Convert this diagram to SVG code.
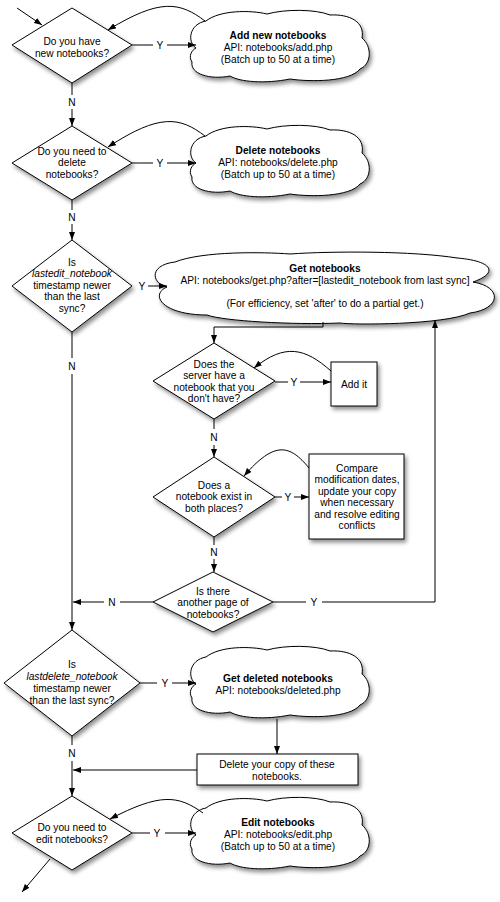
<svg xmlns="http://www.w3.org/2000/svg" width="500" height="902" viewBox="0 0 500 902">
<style>
.n{fill:#fff;stroke:#000;stroke-width:1;filter:url(#sh)}
.c{fill:none;stroke:#000;stroke-width:1}
.a{marker-end:url(#ah)}
text{font-family:"Liberation Sans",Arial,sans-serif;font-size:10.2px;fill:#000;text-anchor:middle}
.b{font-weight:bold}
.i{font-style:italic}
</style>
<defs>
<filter id="sh" x="-10%" y="-10%" width="130%" height="140%">
<feDropShadow dx="2" dy="3" stdDeviation="2" flood-color="#000" flood-opacity="0.45"/>
</filter>
<marker id="ah" markerWidth="8" markerHeight="6" refX="8" refY="3" orient="auto" markerUnits="userSpaceOnUse">
<path d="M0,0 L8,3 L0,6 z" fill="#000"/>
</marker>
<path id="cloud" d="M 6,36 C -3,30 -1,12 16,9 C 30,-2 60,-2 77,2 C 95,-3 125,-3 140,3 C 160,2 175,10 172,26 C 182,34 182,52 170,57 C 160,70 120,70 100,67 C 75,72 50,70 40,64 C 20,68 0,62 2,50 C -2,44 2,38 6,36 Z"/>
</defs>

<g id="d1">
<polygon class="n" points="72,8 132,45 72,83 12,45"/>
<text x="72" y="44.5">Do you have</text>
<text x="72" y="56.5">new notebooks?</text>
</g>
<g id="c1">
<use href="#cloud" class="n" x="190" y="12"/>
<text class="b" x="278" y="38.5">Add new notebooks</text>
<text x="278" y="50.5">API: notebooks/add.php</text>
<text x="278" y="62.5">(Batch up to 50 at a time)</text>
</g>
<g id="d2">
<polygon class="n" points="72,126 132,163 72,200 12,163"/>
<text x="72" y="154.5">Do you need to</text>
<text x="72" y="166">delete</text>
<text x="72" y="177.5">notebooks?</text>
</g>
<g id="c2">
<use href="#cloud" class="n" x="190" y="127"/>
<text class="b" x="278" y="153.5">Delete notebooks</text>
<text x="278" y="165.5">API: notebooks/delete.php</text>
<text x="278" y="177.5">(Batch up to 50 at a time)</text>
</g>
<g id="d3">
<polygon class="n" points="72,240 132,286 72,332 12,286"/>
<text x="72" y="265.5">Is</text>
<text class="i" x="72" y="277">lastedit_notebook</text>
<text x="72" y="288.5">timestamp newer</text>
<text x="72" y="300">than the last</text>
<text x="72" y="311.5">sync?</text>
</g>
<g id="c3">
<path class="n" transform="translate(153,253)" d="M 14,34 C -2,30 -4,12 22,9 C 50,-2 110,-1 137,1 C 180,-2 260,-2 304,5 C 340,8 346,20 320,29 C 350,34 348,56 317,60 C 290,72 200,72 187,70 C 140,72 70,68 54,62 C 10,62 -4,42 14,34 Z"/>
<text class="b" x="325" y="271.5">Get notebooks</text>
<text x="325" y="283.5">API: notebooks/get.php?after=[lastedit_notebook from last sync]</text>
<text x="325" y="306.5">(For efficiency, set 'after' to do a partial get.)</text>
</g>
<g id="d4">
<polygon class="n" points="214,343 275,381 214,419 153,381"/>
<text x="214" y="367.5">Does the</text>
<text x="214" y="379">server have a</text>
<text x="214" y="390.5">notebook that you</text>
<text x="214" y="402">don't have?</text>
</g>
<g id="b1">
<rect class="n" x="331" y="362" width="46" height="44"/>
<text x="354" y="387.5">Add it</text>
</g>
<g id="d5">
<polygon class="n" points="214,457 275,497 214,537 153,497"/>
<text x="214" y="488.5">Does a</text>
<text x="214" y="500">notebook exist in</text>
<text x="214" y="511.5">both places?</text>
</g>
<g id="b2">
<rect class="n" x="309" y="454" width="95" height="85"/>
<text x="357" y="471.5">Compare</text>
<text x="357" y="483">modification dates,</text>
<text x="357" y="494.5">update your copy</text>
<text x="357" y="506">when necessary</text>
<text x="357" y="517.5">and resolve editing</text>
<text x="357" y="529">conflicts</text>
</g>
<g id="d6">
<polygon class="n" points="213,572 273,602 213,632 153,602"/>
<text x="213" y="594.5">Is there</text>
<text x="213" y="606">another page of</text>
<text x="213" y="617.5">notebooks?</text>
</g>
<g id="d7">
<polygon class="n" points="72,630 140,683 72,736 4,683"/>
<text x="72" y="667.5">Is</text>
<text class="i" x="72" y="680">lastdelete_notebook</text>
<text x="72" y="692">timestamp newer</text>
<text x="72" y="703.5">than the last sync?</text>
</g>
<g id="c4">
<use href="#cloud" class="n" x="190" y="648"/>
<text class="b" x="278" y="681.5">Get deleted notebooks</text>
<text x="278" y="693.5">API: notebooks/deleted.php</text>
</g>
<g id="b3">
<rect class="n" x="197" y="754" width="161" height="31"/>
<text x="277" y="767.5">Delete your copy of these</text>
<text x="277" y="779.5">notebooks.</text>
</g>
<g id="d8">
<polygon class="n" points="72,796 132,833 72,870 12,833"/>
<text x="72" y="830.5">Do you need to</text>
<text x="72" y="842.5">edit notebooks?</text>
</g>
<g id="c5">
<use href="#cloud" class="n" x="190" y="799"/>
<text class="b" x="278" y="825.5">Edit notebooks</text>
<text x="278" y="837.5">API: notebooks/edit.php</text>
<text x="278" y="849.5">(Batch up to 50 at a time)</text>
</g>

<g id="connectors">
<line class="c a" x1="17" y1="8" x2="42" y2="25"/>
<line class="c" x1="132" y1="45" x2="153" y2="45"/>
<line class="c a" x1="167" y1="45" x2="196" y2="45"/>
<text x="160" y="48.5">Y</text>
<path class="c a" d="M 205,21 C 180,2 160,-2 108,30"/>
<line class="c" x1="72" y1="83" x2="72" y2="95"/>
<text x="72" y="105.5">N</text>
<line class="c a" x1="72" y1="109" x2="72" y2="126"/>

<line class="c" x1="132" y1="163" x2="153" y2="163"/>
<line class="c a" x1="167" y1="163" x2="196" y2="163"/>
<text x="160" y="166.5">Y</text>
<path class="c a" d="M 205,136 C 180,117 160,113 108,147"/>
<line class="c" x1="72" y1="200" x2="72" y2="210"/>
<text x="72" y="220.5">N</text>
<line class="c a" x1="72" y1="224" x2="72" y2="240"/>

<text x="142" y="289.5">Y</text>
<line class="c a" x1="148" y1="286" x2="167" y2="286"/>
<line class="c" x1="72" y1="332" x2="72" y2="358"/>
<text x="72" y="370">N</text>
<line class="c a" x1="72" y1="374" x2="72" y2="630"/>

<polyline class="c a" points="323,322 323,327 214,327 214,343"/>

<line class="c" x1="275" y1="382" x2="288" y2="382"/>
<text x="294" y="385.5">Y</text>
<line class="c a" x1="300" y1="382" x2="331" y2="382"/>
<path class="c a" d="M 331,371 C 305,348 285,343 254,368"/>
<line class="c" x1="214" y1="419" x2="214" y2="429"/>
<text x="214" y="440.5">N</text>
<line class="c a" x1="214" y1="445" x2="214" y2="457"/>

<line class="c" x1="275" y1="497" x2="282" y2="497"/>
<text x="288" y="500.5">Y</text>
<line class="c a" x1="294" y1="497" x2="309" y2="497"/>
<path class="c a" d="M 309,468 C 290,445 275,440 244,476"/>
<line class="c" x1="214" y1="537" x2="214" y2="545"/>
<text x="214" y="555.5">N</text>
<line class="c a" x1="214" y1="559" x2="214" y2="572"/>

<line class="c" x1="153" y1="602" x2="120" y2="602"/>
<text x="112" y="605.5">N</text>
<line class="c a" x1="104" y1="602" x2="73" y2="602"/>
<line class="c" x1="273" y1="602" x2="306" y2="602"/>
<text x="314" y="605.5">Y</text>
<polyline class="c a" points="322,602 435,602 435,320"/>

<line class="c" x1="140" y1="683" x2="157" y2="683"/>
<text x="165" y="686.5">Y</text>
<line class="c a" x1="172" y1="683" x2="196" y2="683"/>
<line class="c a" x1="277" y1="719" x2="277" y2="754"/>
<line class="c a" x1="197" y1="770" x2="73" y2="770"/>
<line class="c" x1="72" y1="736" x2="72" y2="745"/>
<text x="72" y="756.5">N</text>
<line class="c a" x1="72" y1="761" x2="72" y2="796"/>

<line class="c" x1="132" y1="833" x2="150" y2="833"/>
<text x="157" y="836.5">Y</text>
<line class="c a" x1="165" y1="833" x2="196" y2="833"/>
<path class="c a" d="M 203,813 C 178,795 160,793 110,819"/>
<line class="c a" x1="50" y1="859" x2="22" y2="892"/>
</g>
</svg>
